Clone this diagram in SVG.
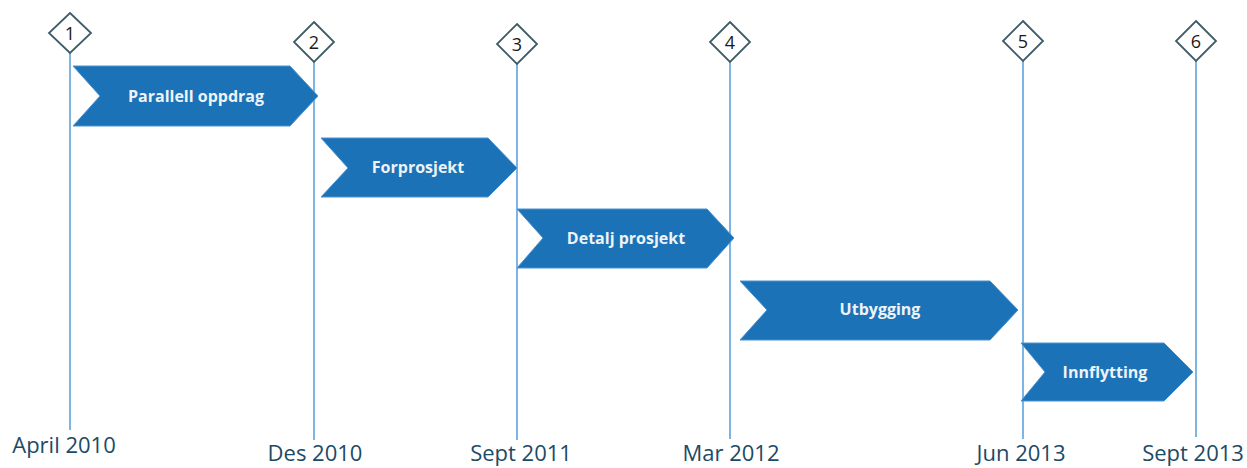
<svg xmlns="http://www.w3.org/2000/svg" width="1247" height="468" viewBox="0 0 1247 468">
<style>
.ln{stroke:#5ea2dc;stroke-width:1.6;fill:none}
.dm{fill:#ffffff;stroke:#3e5c66;stroke-width:1.8}
.num{font-family:"Open Sans","Liberation Sans",sans-serif;font-size:18px;fill:#1a1a1a;text-anchor:middle}
.chev{fill:#1b72b6;stroke:#4b92d2;stroke-width:1}
.lbl{font-family:"Open Sans","Liberation Sans",sans-serif;font-size:16px;font-weight:bold;fill:#eef3f8;text-anchor:middle}
.date{font-family:"Open Sans","Liberation Sans",sans-serif;font-size:22px;fill:#1c4a66;text-anchor:middle}
</style>
<rect width="1247" height="468" fill="#ffffff"/>
<g id="connectors">
<line class="ln" x1="70" y1="53" x2="70" y2="430"/>
<line class="ln" x1="314" y1="62" x2="314" y2="440"/>
<line class="ln" x1="517" y1="64" x2="517" y2="440"/>
<line class="ln" x1="730" y1="62" x2="730" y2="439"/>
<line class="ln" x1="1023" y1="61" x2="1023" y2="439"/>
<line class="ln" x1="1196" y1="61" x2="1196" y2="437"/>
</g>
<g id="phase-parallell">
<polygon class="chev" points="73,66 290,66 318,96 290,126 73,126 100,96"/>
<text class="lbl" x="196" y="102">Parallell oppdrag</text>
</g>
<g id="phase-forprosjekt">
<polygon class="chev" points="321,138 488,138 517,168 488,197 321,197 348,168"/>
<text class="lbl" x="418" y="173">Forprosjekt</text>
</g>
<g id="phase-detalj">
<polygon class="chev" points="517,209 707,209 734,238 707,268 517,268 543,238"/>
<text class="lbl" x="626" y="244">Detalj prosjekt</text>
</g>
<g id="phase-utbygging">
<polygon class="chev" points="740,281 990,281 1018,310 990,340 740,340 767,310"/>
<text class="lbl" x="880" y="315">Utbygging</text>
</g>
<g id="phase-innflytting">
<polygon class="chev" points="1021,343 1164,343 1193,372 1164,401 1021,401 1045,372"/>
<text class="lbl" x="1105" y="378">Innflytting</text>
</g>
<g id="milestone-1">
<polygon class="dm" points="70,13 91,33 70,53 49,33"/>
<text class="num" x="70" y="40">1</text>
<text class="date" x="64" y="453">April 2010</text>
</g>
<g id="milestone-2">
<polygon class="dm" points="314,22 334,42 314,62 294,42"/>
<text class="num" x="314" y="49">2</text>
<text class="date" x="315" y="461">Des 2010</text>
</g>
<g id="milestone-3">
<polygon class="dm" points="517,24 537,44 517,64 497,44"/>
<text class="num" x="517" y="51">3</text>
<text class="date" x="521" y="461">Sept 2011</text>
</g>
<g id="milestone-4">
<polygon class="dm" points="730,22 750,42 730,62 710,42"/>
<text class="num" x="730" y="49">4</text>
<text class="date" x="731" y="461">Mar 2012</text>
</g>
<g id="milestone-5">
<polygon class="dm" points="1023,21 1043,41 1023,61 1003,41"/>
<text class="num" x="1023" y="48">5</text>
<text class="date" x="1021" y="461">Jun 2013</text>
</g>
<g id="milestone-6">
<polygon class="dm" points="1196,21 1216,41 1196,61 1176,41"/>
<text class="num" x="1196" y="48">6</text>
<text class="date" x="1193" y="461">Sept 2013</text>
</g>
</svg>
